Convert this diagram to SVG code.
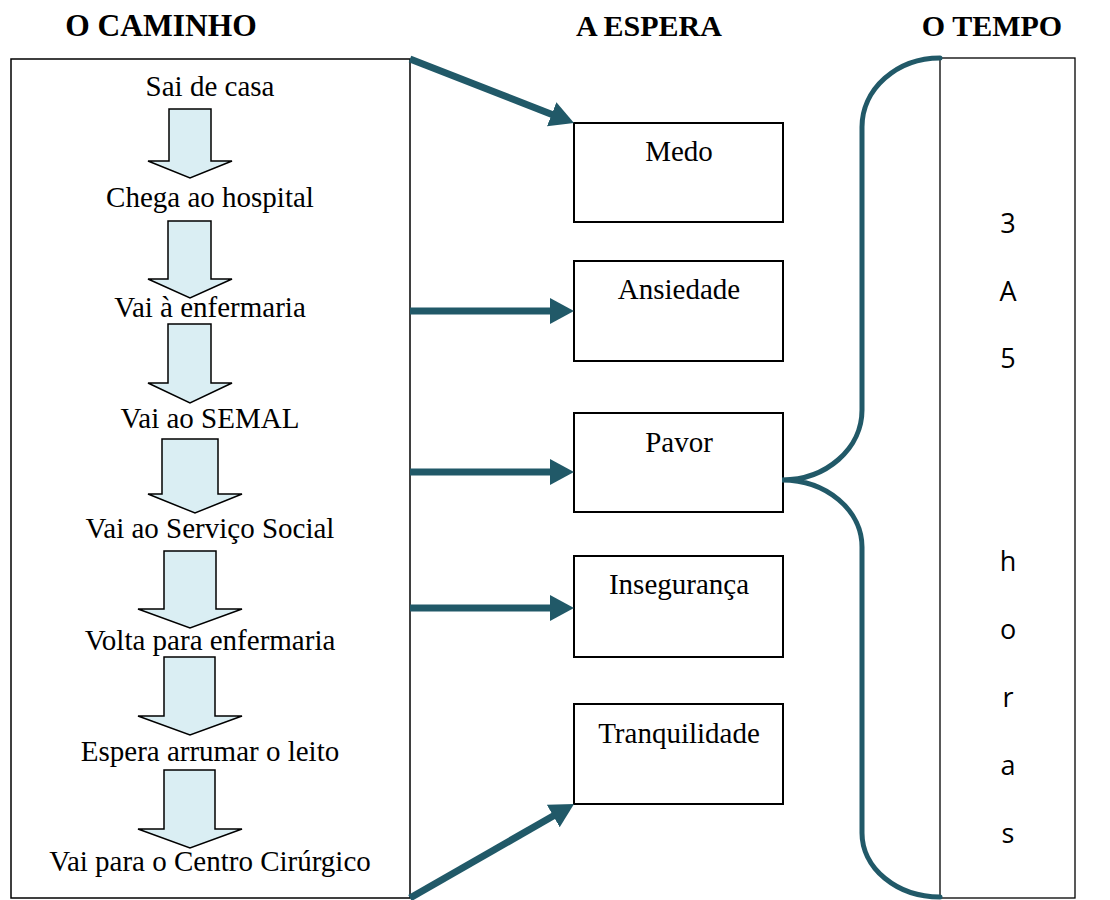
<svg xmlns="http://www.w3.org/2000/svg" width="1110" height="900" viewBox="0 0 1110 900">
<style>
.title{font-family:"Liberation Serif","Times New Roman",serif;font-weight:bold;font-size:30px;fill:#000;text-anchor:middle}
.t{font-family:"Liberation Serif","Times New Roman",serif;font-size:29px;fill:#000;text-anchor:middle}
.s{font-family:"Open Sans","Noto Sans",sans-serif;font-size:27px;fill:#000;text-anchor:middle}
.box{fill:#fff;stroke:#000;stroke-width:2}
.blk{fill:#DAEEF3;stroke:#000;stroke-width:1.5;stroke-linejoin:miter}
.con{fill:none;stroke:#215968;stroke-width:7}
.brace{fill:none;stroke:#215968;stroke-width:5;stroke-linecap:round}
</style>
<defs>
<marker id="ah" markerUnits="userSpaceOnUse" markerWidth="26" markerHeight="26" refX="10" refY="13" orient="auto">
<path d="M0,0 L24,13 L0,26 z" fill="#215968"/>
</marker>
</defs>
<rect width="1110" height="900" fill="#fff"/>
<text class="title" x="161" y="36" style="font-size:31.5px">O CAMINHO</text>
<text class="title" x="649" y="36">A ESPERA</text>
<text class="title" x="992" y="36">O TEMPO</text>

<g id="caminho">
<rect x="11" y="59" width="399" height="839" fill="#fff" stroke="#000" stroke-width="1.5"/>
<text class="t" x="210" y="96">Sai de casa</text>
<polygon class="blk" points="169,109 211,109 211,161 232,161 190,178 148,161 169,161"/>
<text class="t" x="210" y="207">Chega ao hospital</text>
<polygon class="blk" points="168,221 211,221 211,279 232,279 190,298 148,279 168,279"/>
<text class="t" x="210" y="317">Vai à enfermaria</text>
<polygon class="blk" points="168,324 211,324 211,383 232,383 190,403 148,383 168,383"/>
<text class="t" x="210" y="428">Vai ao SEMAL</text>
<polygon class="blk" points="162,439 218,439 218,494 242,494 195,513 148,494 162,494"/>
<text class="t" x="210" y="538">Vai ao Serviço Social</text>
<polygon class="blk" points="164,551 216,551 216,609 242,609 190,628 138,609 164,609"/>
<text class="t" x="210" y="650">Volta para enfermaria</text>
<polygon class="blk" points="164,657 215,657 215,716 242,716 190,735 138,716 164,716"/>
<text class="t" x="210" y="761">Espera arrumar o leito</text>
<polygon class="blk" points="164,770 215,770 215,829 242,829 190,848 138,829 164,829"/>
<text class="t" x="210" y="871">Vai para o Centro Cirúrgico</text>
</g>

<g id="medo"><rect class="box" x="574" y="123" width="209" height="99"/><text class="t" x="679" y="161">Medo</text></g>
<g id="ansiedade"><rect class="box" x="574" y="261" width="209" height="100"/><text class="t" x="679" y="299">Ansiedade</text></g>
<g id="pavor"><rect class="box" x="574" y="413" width="209" height="99"/><text class="t" x="679" y="452">Pavor</text></g>
<g id="inseguranca"><rect class="box" x="574" y="556" width="209" height="101"/><text class="t" x="679" y="594">Insegurança</text></g>
<g id="tranquilidade"><rect class="box" x="574" y="704" width="209" height="100"/><text class="t" x="679" y="743">Tranquilidade</text></g>

<g id="tempo">
<rect x="940" y="58" width="135" height="840" fill="#fff" stroke="#000" stroke-width="1.3"/>
<text class="s" x="1008" y="233">3</text>
<text class="s" x="1008" y="301">A</text>
<text class="s" x="1008" y="368">5</text>
<text class="s" x="1008" y="571">h</text>
<text class="s" x="1008" y="639">o</text>
<text class="s" x="1008" y="707">r</text>
<text class="s" x="1008" y="775">a</text>
<text class="s" x="1008" y="843">s</text>
</g>

<g id="connectors">
<line class="con" x1="410" y1="59" x2="561" y2="117.9" marker-end="url(#ah)"/>
<line class="con" x1="410" y1="311" x2="560" y2="311" marker-end="url(#ah)"/>
<line class="con" x1="410" y1="472" x2="560" y2="472" marker-end="url(#ah)"/>
<line class="con" x1="410" y1="608" x2="560" y2="608" marker-end="url(#ah)"/>
<line class="con" x1="410" y1="898" x2="561.9" y2="811" marker-end="url(#ah)"/>
<path class="brace" d="M940,58 A78,69 0 0 0 862,127 L862,410 A80,70 0 0 1 782,480 A80,67 0 0 1 862,547 L862,833 A78,64 0 0 0 940,897"/>
</g>
</svg>
